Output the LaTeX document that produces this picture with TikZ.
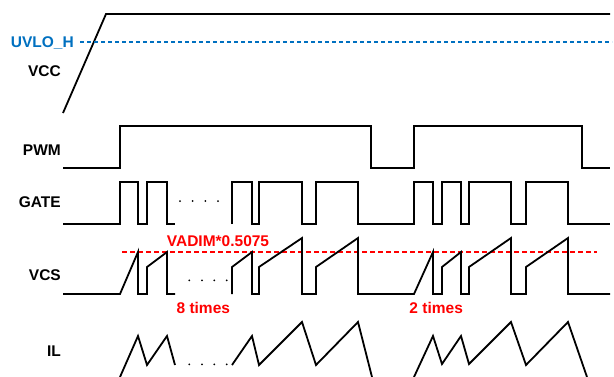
\documentclass[tikz,border=0pt]{standalone}
\usepackage{fontspec}
\setmainfont{Liberation Sans}
\usepackage{xcolor}
\usetikzlibrary{calc}

\definecolor{uvloblue}{RGB}{0,112,192}

\begin{document}
\begin{tikzpicture}[x=1pt,y=-1pt,
    wave/.style={line width=1.8pt,black},
    sig/.style={font=\fontsize{15.5}{18}\selectfont\bfseries,inner sep=0pt,anchor=base east},
    note/.style={font=\fontsize{15.5}{18}\selectfont\bfseries,inner sep=0pt,anchor=base,red},
    dots/.style={fill=black}]
  \useasboundingbox (0,0) rectangle (614,376);

  % signal names
  \node[sig,uvloblue] (uvlo) at (74,47.5) {UVLO\_H};
  \node[sig] (vcc) at (61,76) {VCC};
  \node[sig] (pwm) at (61,155) {PWM};
  \node[sig] (gate) at (61,207.3) {GATE};
  \node[sig] (vcs) at (61,280) {VCS};
  \node[sig] (il) at (61,356) {IL};

  % VCC ramp and UVLO level
  \draw[wave] (63,113) -- (106,14) -- (610,14);
  \draw[uvloblue,line width=1.6pt,dash pattern=on 4pt off 3pt] (80,42) -- (612,42);

  % PWM
  \draw[wave] (63,168) -- (120,168) -- (120,126) -- (371,126) -- (371,168)
    -- (414,168) -- (414,126) -- (582,126) -- (582,168) -- (610,168);

  % GATE
  \draw[wave] (63,224) -- (120,224) -- (120,182) -- (138,182) -- (138,224)
    -- (147,224) -- (147,182) -- (167,182) -- (167,224) -- (175,224);
  \draw[wave] (232,224) -- (232,182) -- (252,182) -- (252,224) -- (259,224)
    -- (259,182) -- (302,182) -- (302,224) -- (316,224) -- (316,182)
    -- (358,182) -- (358,224) -- (414,224) -- (414,182) -- (433,182)
    -- (433,224) -- (442,224) -- (442,182) -- (461,182) -- (461,224)
    -- (469,224) -- (469,182) -- (511,182) -- (511,224) -- (526,224)
    -- (526,182) -- (568,182) -- (568,224) -- (610,224);
  \foreach \x in {180,192.7,205.3,218}
    \fill[dots] (\x,201) circle (1pt);

  % VCS with limit
  \draw[red,line width=2pt,dash pattern=on 4.5pt off 3.5pt] (122,252) -- (597,252);
  \node[note] (lim) at (218,246.5) {VADIM*0.5075};
  \draw[wave] (63,294) -- (120,294) -- (138,252) -- (138,294) -- (147,294)
    -- (147,267) -- (167,252) -- (167,294) -- (175,294);
  \draw[wave] (232,294) -- (232,267) -- (252,252) -- (252,294) -- (259,294)
    -- (259,267) -- (302,238) -- (302,294) -- (316,294) -- (316,267)
    -- (358,238) -- (358,294) -- (414,294) -- (433,252) -- (433,294)
    -- (442,294) -- (442,267) -- (461,252) -- (461,294) -- (469,294)
    -- (469,267) -- (511,238) -- (511,294) -- (526,294) -- (526,267)
    -- (568,238) -- (568,294) -- (610,294);
  \foreach \x in {189.3,202,214.3,226.7}
    \fill[dots] (\x,280.3) circle (1pt);
  \node[note] (eight) at (203.3,313) {8 times};
  \node[note] (two) at (436.2,313) {2 times};

  % IL
  \draw[wave] (120,377) -- (138,336) -- (147,365) -- (167,336) -- (175,365);
  \draw[wave] (232,365) -- (252,336) -- (259,365) -- (302,322) -- (316,365)
    -- (358,322) -- (372,377);
  \draw[wave] (414,377) -- (433,336) -- (442,364) -- (461,336) -- (469,364)
    -- (511,322) -- (526,365) -- (568,322) -- (587,377);
  \foreach \x in {189.3,202,214.3,226.7}
    \fill[dots] (\x,364.3) circle (1pt);
\end{tikzpicture}
\end{document}
